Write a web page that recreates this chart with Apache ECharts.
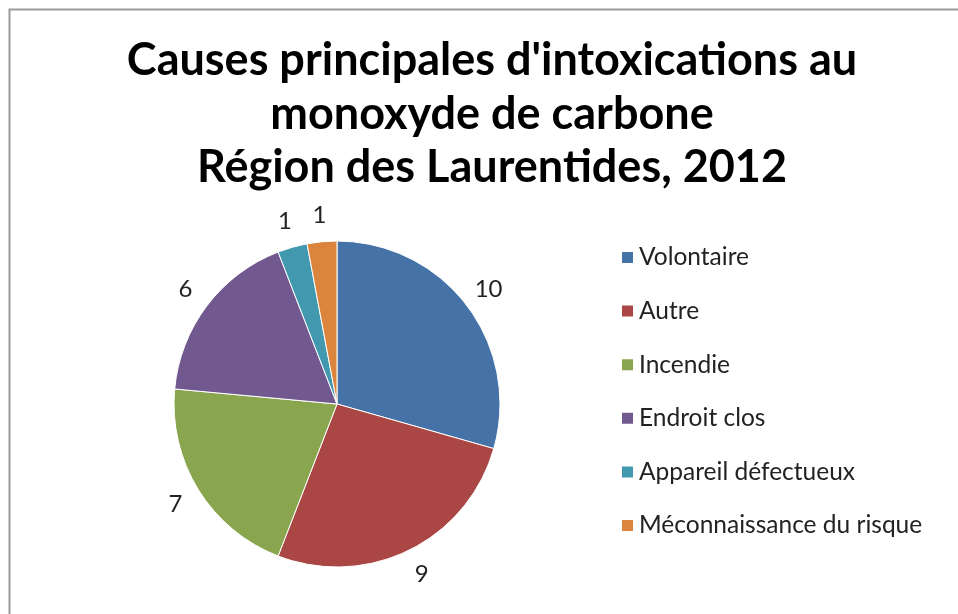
<!DOCTYPE html>
<html>
<head>
<meta charset="utf-8">
<script src="https://cdn.jsdelivr.net/npm/echarts@6/dist/echarts.min.js"></script>
<style>
  html, body { margin: 0; padding: 0; background: #fff; }
  #chart { width: 958px; height: 614px; }
</style>
</head>
<body>
<div id="chart"></div>
<script>
// données
const categories = ["Volontaire", "Autre", "Incendie", "Endroit clos", "Appareil défectueux", "Méconnaissance du risque"];
const values = [10, 9, 7, 6, 1, 1];
const colors = ["#4572A7", "#AA4643", "#89A54E", "#71588F", "#4198AF", "#DB843D"];

const font = "Lato, 'Open Sans', sans-serif";
const pieData = categories.map((name, i) => ({
  name: name,
  value: values[i],
  itemStyle: { color: colors[i] }
}));

let mychart = echarts.init(document.getElementById("chart"));
mychart.setOption({
  animation: false,
  title: {
    text: "Causes principales d'intoxications au\nmonoxyde de carbone\nRégion des Laurentides, 2012",
    left: 487,
    top: 29,
    textAlign: "center",
    textStyle: {
      fontFamily: font,
      fontWeight: "bold",
      fontSize: 45,
      lineHeight: 53.5,
      color: "#000"
    }
  },
  legend: {
    orient: "vertical",
    left: 615,
    top: 240,
    icon: "rect",
    itemWidth: 13,
    itemHeight: 13,
    itemGap: 28.6,
    selectedMode: false,
    data: categories,
    textStyle: {
      fontFamily: font,
      fontSize: 24.5,
      lineHeight: 24,
      color: "#222"
    }
  },
  graphic: [
    {
      // cadre gris
      type: "rect",
      shape: { x: 9.5, y: 9.5, width: 1000, height: 700 },
      style: { fill: "none", stroke: "#9a9a9a", lineWidth: 2 },
      silent: true
    }
  ],
  series: [
    {
      type: "pie",
      center: [337, 404],
      radius: [0, 163],
      startAngle: 90,
      clockwise: true,
      label: { show: false },
      labelLine: { show: false },
      itemStyle: { borderColor: "#fff", borderWidth: 1 },
      data: pieData
    },
    {
      // anneau invisible pour placer les étiquettes
      type: "pie",
      silent: true,
      center: [337, 404],
      radius: [163, 211],
      startAngle: 90,
      clockwise: true,
      itemStyle: { color: "rgba(0,0,0,0)" },
      label: {
        show: true,
        position: "inside",
        formatter: "{c}",
        fontFamily: font,
        fontSize: 24,
        color: "#222"
      },
      labelLine: { show: false },
      data: categories.map((name, i) => ({ name: name, value: values[i] }))
    }
  ]
});
window.addEventListener("resize", () => {
  mychart.resize();
});
</script>
</body>
</html>
